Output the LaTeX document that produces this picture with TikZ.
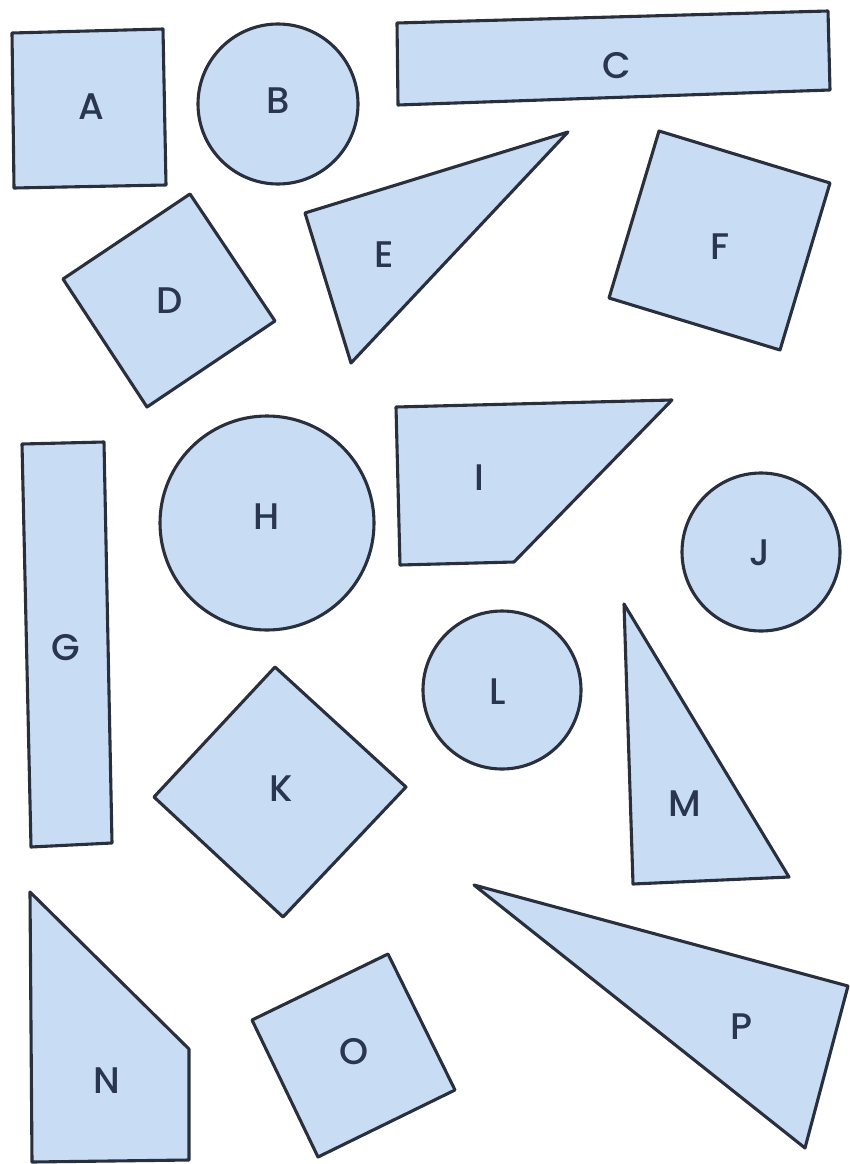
\documentclass[tikz,border=0pt]{standalone}
\usepackage{fontspec}
\setsansfont{Poppins}[BoldFont={Poppins Medium}]
\definecolor{ink}{HTML}{2A3550}
\definecolor{edge}{HTML}{2A2F3E}
\definecolor{paper}{HTML}{C8DCF4}

\begin{document}
\begin{tikzpicture}[x=1pt,y=-1pt,font=\sffamily,
    piece/.style={draw=edge,fill=paper,line width=3.1pt,line join=round},
    tag/.style={text=ink,font=\sffamily\bfseries\fontsize{37}{37}\selectfont,inner sep=0pt}]
  \useasboundingbox (0,0) rectangle (849,1164);

  % top row
  \draw[piece] (12,33) -- (163,29) -- (166,185) -- (14,188) -- cycle;
  \node[tag] (labA) at (91,107) {A};
  \draw[piece] (278,104) circle[radius=80pt];
  \node[tag] (labB) at (278,101) {B};
  \draw[piece] (397,23) -- (828,11) -- (830,90) -- (398,105) -- cycle;
  \node[tag] (labC) at (617,66) {C};

  % second row
  \draw[piece] (190,194) -- (275,321) -- (147,407) -- (63,279) -- cycle;
  \node[tag] (labD) at (170,301) {D};
  \draw[piece] (305,213) -- (568,132) -- (351,363) -- cycle;
  \node[tag] (labE) at (384,255) {E};
  \draw[piece] (659,131) -- (830,183) -- (780,350) -- (609,298) -- cycle;
  \node[tag] (labF) at (720,247) {F};

  % middle
  \draw[piece] (22,444) -- (104,442) -- (112,843) -- (31,847) -- cycle;
  \node[tag] (labG) at (66,648) {G};
  \draw[piece] (267,523) circle[radius=107pt];
  \node[tag] (labH) at (267,517) {H};
  \draw[piece] (396,407) -- (672,400) -- (514,562) -- (400,565) -- cycle;
  \node[tag] (labI) at (479,478) {I};
  \draw[piece] (761,552) circle[radius=79pt];
  \node[tag] (labJ) at (760,553) {J};
  \draw[piece] (275,667) -- (406,787) -- (283,917) -- (154,797) -- cycle;
  \node[tag] (labK) at (281,789) {K};
  \draw[piece] (502,690) circle[radius=79pt];
  \node[tag] (labL) at (498,692) {L};
  \draw[piece] (624,604) -- (789,877) -- (633,884) -- cycle;
  \node[tag] (labM) at (685,804) {M};

  % bottom row
  \draw[piece] (30,892) -- (189,1049) -- (189,1160) -- (32,1162) -- cycle;
  \node[tag] (labN) at (107,1081) {N};
  \draw[piece] (388,954) -- (455,1090) -- (318,1157) -- (252,1020) -- cycle;
  \node[tag] (labO) at (354,1052) {O};
  \draw[piece] (474,885) -- (848,986) -- (805,1148) -- cycle;
  \node[tag] (labP) at (741,1027) {P};
\end{tikzpicture}
\end{document}
